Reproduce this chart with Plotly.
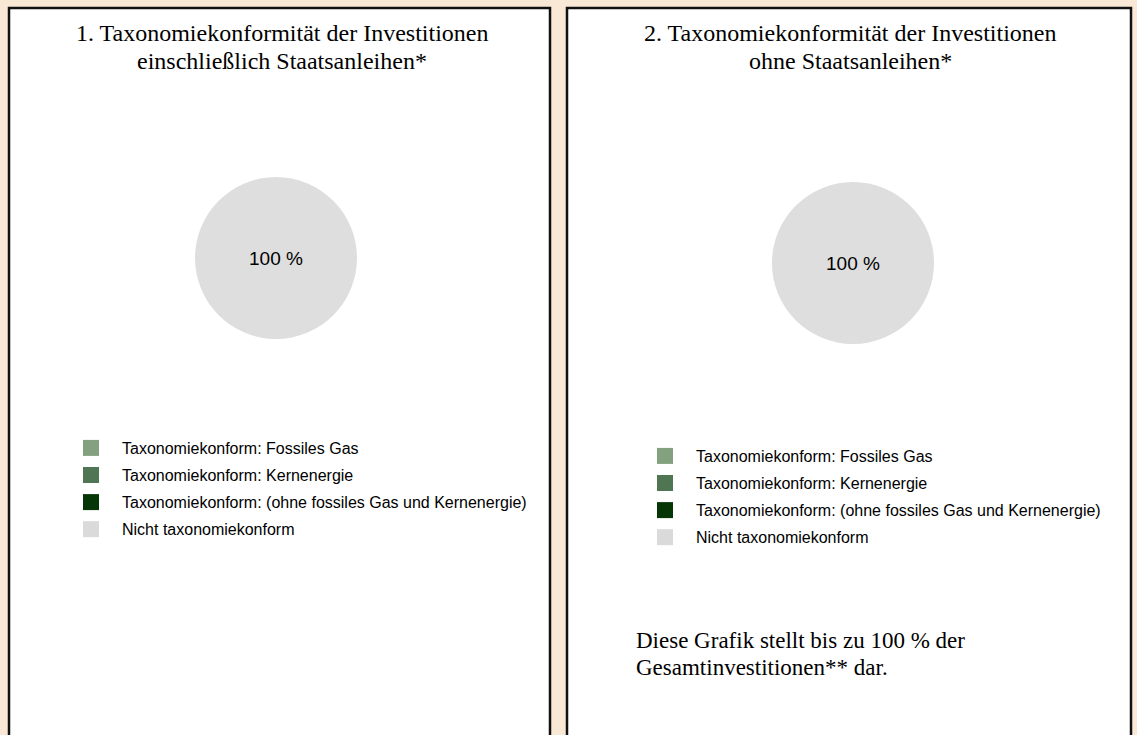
import plotly.graph_objects as go

W, H = 1137, 735

# Categories of the taxonomy breakdown and their fill colours
categories = [
    "Taxonomiekonform: Fossiles Gas",
    "Taxonomiekonform: Kernenergie",
    "Taxonomiekonform: (ohne fossiles Gas und Kernenergie)",
    "Nicht taxonomiekonform",
]
colors = ["#83A07F", "#4F7552", "#063506", "#DADADA"]
pie_colors = ["#83A07F", "#4F7552", "#063506", "#DEDEDE"]

# Shares in percent for each chart
values_incl = [0, 0, 0, 100]
values_excl = [0, 0, 0, 100]

title_incl = ["1. Taxonomiekonformität der Investitionen", "einschließlich Staatsanleihen*"]
title_excl = ["2. Taxonomiekonformität der Investitionen", "ohne Staatsanleihen*"]
footnote = ["Diese Grafik stellt bis zu 100 % der", "Gesamtinvestitionen** dar."]

SERIF = "Liberation Serif, Times New Roman, serif"
SANS = "Liberation Sans, Arial, sans-serif"


def px(x):
    return x / W


def py(y):
    return 1 - y / H


def pct_text(vals):
    return [f"{v} %" if v else "" for v in vals]


fig = go.Figure()

# Pie charts
for vals, (x0, x1, y0, y1) in [
    (values_incl, (195, 357, 177, 339)),
    (values_excl, (772, 934, 182, 344)),
]:
    fig.add_trace(go.Pie(
        labels=categories,
        values=vals,
        text=pct_text(vals),
        textinfo="text",
        textposition="inside",
        insidetextfont=dict(family=SANS, size=19, color="#000000"),
        marker=dict(colors=pie_colors, line=dict(width=0)),
        sort=False,
        direction="clockwise",
        showlegend=False,
        hoverinfo="label+percent",
        domain=dict(x=[px(x0), px(x1)], y=[py(y1), py(y0)]),
    ))

# Legend entries, one per category, for each panel
for legend_id in ["legend", "legend2"]:
    for i, (name, col) in enumerate(zip(categories, colors)):
        fig.add_trace(go.Scatter(
            x=[None], y=[None],
            mode="markers",
            name=name,
            marker=dict(symbol="square", size=16, color=col),
            legend=legend_id,
            legendgroup=f"{legend_id}_{i}",
            showlegend=True,
        ))

# Panel frames
shapes = []
for x0, x1 in [(9, 550), (567, 1131)]:
    shapes.append(dict(
        type="rect", xref="paper", yref="paper",
        x0=px(x0), x1=px(x1), y0=py(H + 10), y1=py(8),
        line=dict(color="#111111", width=2.5),
        fillcolor="#FFFFFF", layer="below",
    ))


def text_line(text, x, y, size, xanchor="center"):
    return dict(text=text, x=px(x), y=py(y), xref="paper", yref="paper",
                xanchor=xanchor, yanchor="middle", showarrow=False,
                font=dict(family=SERIF, size=size, color="#000000"))


annotations = []
for j, line in enumerate(title_incl):
    annotations.append(text_line(line, 282, 33 + 28 * j, 24))
for j, line in enumerate(title_excl):
    annotations.append(text_line(line, 850, 33 + 28 * j, 24))
for j, line in enumerate(footnote):
    annotations.append(text_line(line, 634, 640 + 27.5 * j, 23, xanchor="left"))

legend_style = dict(
    orientation="v",
    xanchor="left", yanchor="top",
    bgcolor="rgba(0,0,0,0)", borderwidth=0,
    font=dict(family=SANS, size=16, color="#000000"),
    tracegroupgap=3.3,
    itemwidth=52,
    itemclick=False, itemdoubleclick=False,
)

fig.update_layout(
    width=W, height=H,
    margin=dict(l=0, r=0, t=0, b=0),
    paper_bgcolor="#FAE8D7",
    plot_bgcolor="rgba(0,0,0,0)",
    xaxis=dict(visible=False),
    yaxis=dict(visible=False),
    shapes=shapes,
    annotations=annotations,
    legend=dict(x=px(60), y=py(431), **legend_style),
    legend2=dict(x=px(634), y=py(439), **legend_style),
)

fig.write_html("out.html")
